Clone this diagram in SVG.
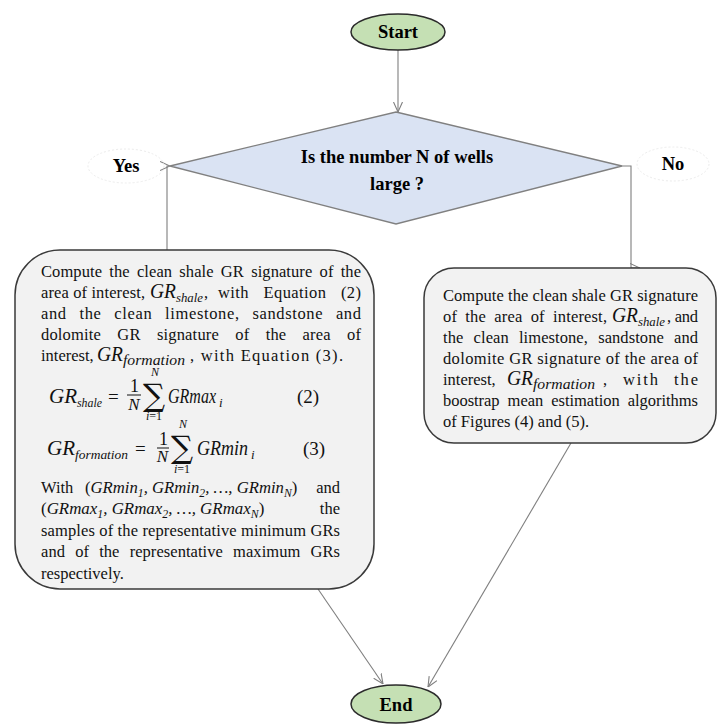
<svg xmlns="http://www.w3.org/2000/svg" width="721" height="724" viewBox="0 0 721 724">
<defs>
<marker id="arr" viewBox="0 0 10 10" refX="10" refY="5" markerWidth="10" markerHeight="10" markerUnits="userSpaceOnUse" orient="auto">
<path d="M0,0.5 L10,5 L0,9.5" fill="none" stroke="#7f7f7f" stroke-width="1.1"/>
</marker>
</defs>
<style>
.term{fill:#c5e0b4;stroke:#2b2b2b;stroke-width:1.5}
.dec{fill:#dae3f3;stroke:#808080;stroke-width:1.3}
.box{fill:#f2f2f2;stroke:#3a3a3a;stroke-width:1.5}
.lbl{fill:none;stroke:#ececec;stroke-width:1;stroke-dasharray:2 2}
.b{font-family:"Liberation Serif",serif;font-weight:bold;font-size:18.5px;fill:#000}
.t{font-family:"Liberation Serif",serif;font-size:16.5px;fill:#111}
.m{font-family:"Liberation Serif",serif;font-style:italic;font-size:20px;fill:#111}
.s{font-family:"Liberation Serif",serif;font-style:italic;font-size:13px;fill:#111}
.e{font-family:"Liberation Serif",serif;font-style:italic;font-size:21px;fill:#111}
.r{font-family:"Liberation Serif",serif;font-size:19px;fill:#111}
.f{font-family:"Liberation Serif",serif;font-size:18px;fill:#111}
.sig{font-family:"DejaVu Serif",serif;font-size:31px;fill:#111}
.lim{font-family:"Liberation Serif",serif;font-style:italic;font-size:12px;fill:#111}
.con{fill:none;stroke:#7f7f7f;stroke-width:1.1}
</style>

<g id="connectors">
<path class="con" d="M398,50 V112" marker-end="url(#arr)"/>
<path class="con" d="M167,250 V166 H170" marker-end="url(#arr)"/>
<path class="con" d="M622,166 H631 V268 H640" marker-end="url(#arr)"/>
<path class="con" d="M318,589 L383,684" marker-end="url(#arr)"/>
<path class="con" d="M571,443 L428,687" marker-end="url(#arr)"/>
</g>

<g id="start">
<ellipse class="term" cx="398" cy="32" rx="47" ry="18"/>
<text class="b" x="398" y="38" text-anchor="middle">Start</text>
</g>

<g id="decision">
<polygon class="dec" points="396,112 622,166 396,224 170,166"/>
<text class="b" x="397" y="163" text-anchor="middle">Is the number N of wells</text>
<text class="b" x="397" y="190" text-anchor="middle">large ?</text>
</g>

<g id="yes-label">
<ellipse class="lbl" cx="126" cy="166" rx="38" ry="17"/>
<text class="b" x="126" y="172" text-anchor="middle">Yes</text>
</g>

<g id="no-label">
<ellipse class="lbl" cx="673" cy="164" rx="36" ry="17"/>
<text class="b" x="673" y="170" text-anchor="middle">No</text>
</g>

<g id="left-box">
<rect class="box" x="15" y="250" width="359" height="339" rx="45" ry="45"/>
<text class="t" x="41" y="277" textLength="320" lengthAdjust="spacing" word-spacing="3">Compute the clean shale GR signature of the</text>
<text class="t" x="41" y="298" textLength="104" lengthAdjust="spacing">area of interest,</text>
<text class="m" x="150" y="298" textLength="26" lengthAdjust="spacingAndGlyphs">GR</text>
<text class="s" x="176" y="302" textLength="27" lengthAdjust="spacingAndGlyphs">shale</text>
<text class="t" x="204" y="298">,</text>
<text class="t" x="218" y="298" textLength="143" lengthAdjust="spacing" word-spacing="10">with Equation (2)</text>
<text class="t" x="41" y="319" textLength="320" lengthAdjust="spacing" word-spacing="8">and the clean limestone, sandstone and</text>
<text class="t" x="41" y="340" textLength="320" lengthAdjust="spacing" word-spacing="12">dolomite GR signature of the area of</text>
<text class="t" x="41" y="361">interest,</text>
<text class="m" x="97" y="361" textLength="26" lengthAdjust="spacingAndGlyphs">GR</text>
<text class="s" x="123" y="365" style="font-size:14px" textLength="62" lengthAdjust="spacingAndGlyphs">formation</text>
<text class="t" x="190" y="361" textLength="153" lengthAdjust="spacing">, with Equation (3).</text>

<text class="e" x="49" y="403" textLength="28" lengthAdjust="spacingAndGlyphs">GR</text>
<text class="s" x="77" y="407" textLength="25" lengthAdjust="spacingAndGlyphs">shale</text>
<text class="r" x="108" y="403">=</text>
<text class="f" x="134.5" y="392" text-anchor="middle">1</text>
<line x1="127" y1="395" x2="141" y2="395" stroke="#111" stroke-width="1"/>
<text class="e" x="134" y="410" text-anchor="middle" style="font-size:17px">N</text>
<text class="sig" x="154" y="406" text-anchor="middle">∑</text>
<text class="lim" x="155" y="376" text-anchor="middle">N</text>
<text class="lim" x="154" y="420" text-anchor="middle">i<tspan font-style="normal">=1</tspan></text>
<text class="e" x="168" y="403" textLength="48" lengthAdjust="spacingAndGlyphs">GRmax</text>
<text class="s" x="219" y="407">i</text>
<text class="r" x="297" y="403">(2)</text>

<text class="e" x="47" y="455" textLength="28" lengthAdjust="spacingAndGlyphs">GR</text>
<text class="s" x="75" y="459" style="font-size:13.5px" textLength="53" lengthAdjust="spacingAndGlyphs">formation</text>
<text class="r" x="135" y="455">=</text>
<text class="f" x="163.5" y="445" text-anchor="middle">1</text>
<line x1="157" y1="448" x2="169" y2="448" stroke="#111" stroke-width="1"/>
<text class="e" x="162.5" y="462" text-anchor="middle" style="font-size:17px">N</text>
<text class="sig" x="182" y="458" text-anchor="middle">∑</text>
<text class="lim" x="183" y="428" text-anchor="middle">N</text>
<text class="lim" x="182" y="473" text-anchor="middle">i<tspan font-style="normal">=1</tspan></text>
<text class="e" x="197" y="455" textLength="51" lengthAdjust="spacingAndGlyphs">GRmin</text>
<text class="s" x="251" y="459">i</text>
<text class="r" x="303" y="455">(3)</text>

<text class="t" x="41" y="493">With</text>
<text class="m" x="85" y="493" style="font-size:16.7px"><tspan font-style="normal">(</tspan>GRmin<tspan font-size="11.7" dy="4">1</tspan><tspan dy="-4">, GRmin</tspan><tspan font-size="11.7" dy="4">2</tspan><tspan dy="-4">, …, GRmin</tspan><tspan font-size="11.7" dy="4">N</tspan><tspan dy="-4" font-style="normal">)</tspan></text>
<text class="t" x="340" y="493" text-anchor="end">and</text>
<text class="m" x="41" y="514" style="font-size:16.9px"><tspan font-style="normal">(</tspan>GRmax<tspan font-size="11.8" dy="4">1</tspan><tspan dy="-4">, GRmax</tspan><tspan font-size="11.8" dy="4">2</tspan><tspan dy="-4">, …, GRmax</tspan><tspan font-size="11.8" dy="4">N</tspan><tspan dy="-4" font-style="normal">)</tspan></text>
<text class="t" x="340" y="514" text-anchor="end">the</text>
<text class="t" x="41" y="536" textLength="299" lengthAdjust="spacing">samples of the representative minimum GRs</text>
<text class="t" x="41" y="557" textLength="299" lengthAdjust="spacing" word-spacing="6">and of the representative maximum GRs</text>
<text class="t" x="41" y="579">respectively.</text>
</g>

<g id="right-box">
<rect class="box" x="424" y="268" width="292" height="175" rx="30" ry="30"/>
<text class="t" x="443" y="301" textLength="255" lengthAdjust="spacing">Compute the clean shale GR signature</text>
<text class="t" x="443" y="322" textLength="164" lengthAdjust="spacing" word-spacing="4">of the area of interest,</text>
<text class="m" x="612" y="322" textLength="26" lengthAdjust="spacingAndGlyphs">GR</text>
<text class="s" x="638" y="326" textLength="27" lengthAdjust="spacingAndGlyphs">shale</text>
<text class="t" x="667" y="322" textLength="31" lengthAdjust="spacing">, and</text>
<text class="t" x="443" y="343" textLength="255" lengthAdjust="spacing" word-spacing="6">the clean limestone, sandstone and</text>
<text class="t" x="443" y="364" textLength="255" lengthAdjust="spacing">dolomite GR signature of the area of</text>
<text class="t" x="443" y="385">interest,</text>
<text class="m" x="507" y="385" textLength="26" lengthAdjust="spacingAndGlyphs">GR</text>
<text class="s" x="533" y="389" style="font-size:14px" textLength="62" lengthAdjust="spacingAndGlyphs">formation</text>
<text class="t" x="603" y="385" textLength="95" lengthAdjust="spacing" word-spacing="8">, with the</text>
<text class="t" x="443" y="406" textLength="255" lengthAdjust="spacing" word-spacing="4">boostrap mean estimation algorithms</text>
<text class="t" x="443" y="427">of Figures (4) and (5).</text>
</g>

<g id="end">
<ellipse class="term" cx="396" cy="704" rx="45" ry="19"/>
<text class="b" x="396" y="711" text-anchor="middle">End</text>
</g>
</svg>
